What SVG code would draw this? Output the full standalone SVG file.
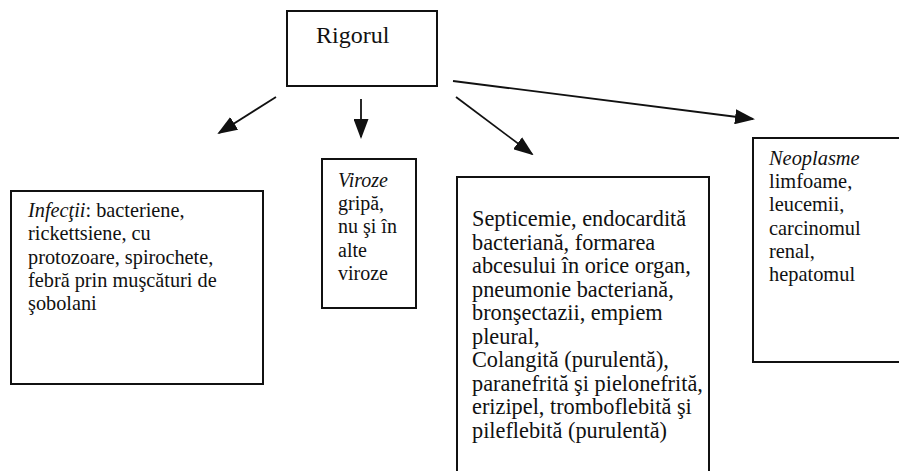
<svg xmlns="http://www.w3.org/2000/svg" width="899" height="471" viewBox="0 0 899 471">
<style>
.box{fill:#fff;stroke:#111;stroke-width:2}
.t{font-family:'Liberation Serif','DejaVu Serif',serif;fill:#111}
.i{font-style:italic}
.c{stroke:#111;stroke-width:1.8;fill:none}
</style>
<defs>
<marker id="ah" viewBox="0 0 10 10" refX="9" refY="5" markerWidth="20" markerHeight="15" markerUnits="userSpaceOnUse" orient="auto" preserveAspectRatio="none">
<path d="M0,0 L10,5 L0,10 z" fill="#111"/>
</marker>
</defs>
<rect width="899" height="471" fill="#fff"/>
<g id="connectors">
<line class="c" x1="276" y1="97" x2="219" y2="133" marker-end="url(#ah)"/>
<line class="c" x1="361" y1="99" x2="361" y2="137" marker-end="url(#ah)"/>
<line class="c" x1="456" y1="97" x2="532" y2="154" marker-end="url(#ah)"/>
<line class="c" x1="453" y1="81" x2="753" y2="119" marker-end="url(#ah)"/>
</g>
<g id="rigorul">
<rect class="box" x="287" y="11" width="150" height="75"/>
<text class="t" x="316" y="43" font-size="24" font-family="Liberation Serif, serif">Rigorul</text>
</g>
<g id="infectii">
<rect class="box" x="11" y="191" width="252" height="193"/>
<text class="t" font-size="20.3" font-family="Liberation Serif, serif">
<tspan x="28" y="217"><tspan class="i">Infecţii</tspan>: bacteriene,</tspan>
<tspan x="28" y="240">rickettsiene, cu</tspan>
<tspan x="28" y="264">protozoare, spirochete,</tspan>
<tspan x="28" y="287">febră prin muşcături de</tspan>
<tspan x="28" y="310">şobolani</tspan>
</text>
</g>
<g id="viroze">
<rect class="box" x="322" y="159" width="94" height="149"/>
<text class="t" font-size="20" font-family="Liberation Serif, serif">
<tspan class="i" x="338" y="187">Viroze</tspan>
<tspan x="338" y="210">gripă,</tspan>
<tspan x="338" y="233">nu şi în</tspan>
<tspan x="338" y="257">alte</tspan>
<tspan x="338" y="280">viroze</tspan>
</text>
</g>
<g id="septicemie">
<rect class="box" x="457" y="177" width="252" height="310"/>
<text class="t" font-size="22.3" font-family="Liberation Serif, serif">
<tspan x="472" y="226">Septicemie, endocardită</tspan>
<tspan x="472" y="249.5">bacteriană,  formarea</tspan>
<tspan x="472" y="273">abcesului în orice organ,</tspan>
<tspan x="472" y="296.5">pneumonie bacteriană,</tspan>
<tspan x="472" y="320">bronşectazii, empiem</tspan>
<tspan x="472" y="343.5">pleural,</tspan>
<tspan x="472" y="367">Colangită (purulentă),</tspan>
<tspan x="472" y="390.5">paranefrită şi pielonefrită,</tspan>
<tspan x="472" y="414">erizipel, tromboflebită şi</tspan>
<tspan x="472" y="437.5">pileflebită (purulentă)</tspan>
</text>
</g>
<g id="neoplasme">
<rect class="box" x="753" y="138" width="170" height="224"/>
<text class="t" font-size="20.4" font-family="Liberation Serif, serif">
<tspan class="i" x="769" y="165">Neoplasme</tspan>
<tspan x="769" y="188">limfoame,</tspan>
<tspan x="769" y="211">leucemii,</tspan>
<tspan x="769" y="235">carcinomul</tspan>
<tspan x="769" y="258">renal,</tspan>
<tspan x="769" y="281">hepatomul</tspan>
</text>
</g>
</svg>
